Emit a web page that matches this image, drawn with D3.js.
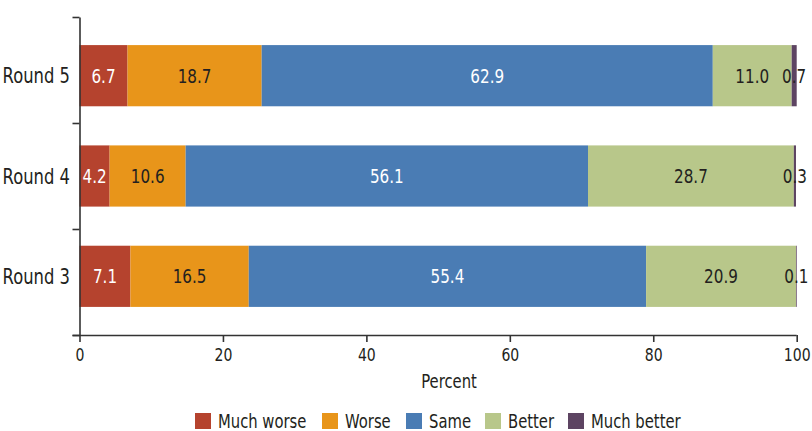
<!DOCTYPE html>
<html lang="en">
<head>
    <meta charset="UTF-8">
    <title>Change by round</title>
    <script src="https://d3js.org/d3.v7.min.js"></script>
    <style>
        body {
            margin: 0;
            background: #fff;
        }
        svg {
            display: block;
        }
        svg text {
            font-family: "DejaVu Sans", sans-serif;
        }
        .axis path, .axis line {
            stroke: #333;
            stroke-width: 1.6px;
        }
        .axis text {
            font-size: 18px;
            fill: #231f20;
            font-family: "DejaVu Sans", sans-serif;
        }
    </style>
</head>
<body>
    <svg width="812" height="431"></svg>

    <script>
        const rounds = ["Round 5", "Round 4", "Round 3"];
        const categories = ["Much worse", "Worse", "Same", "Better", "Much better"];
        const muchWorse = [6.7, 4.2, 7.1];
        const worse = [18.7, 10.6, 16.5];
        const same = [62.9, 56.1, 55.4];
        const better = [11.0, 28.7, 20.9];
        const muchBetter = [0.7, 0.3, 0.1];
        const xTicks = [0, 20, 40, 60, 80, 100];

        const colors = ["#b5432e", "#e8951a", "#4a7cb4", "#b8c78a", "#5d4462"];
        const labelColors = ["#fff", "#231f20", "#fff", "#231f20", "#231f20"];

        // no condensed font installed, so squeeze text horizontally
        const narrow = 0.78;
        const at = (px, py) => `translate(${px},${py}) scale(${narrow},1)`;

        const series = [muchWorse, worse, same, better, muchBetter];
        const data = rounds.map((r, i) => {
            const row = {round: r};
            categories.forEach((c, j) => row[c] = series[j][i]);
            return row;
        });
        const stacked = d3.stack().keys(categories)(data);

        const svg = d3.select("svg");
        const plotLeft = 79.5, plotRight = 796.7, plotTop = 17, plotBottom = 335;

        const x = d3.scaleLinear().domain([0, 100]).range([plotLeft, plotRight]);
        const y = d3.scaleBand().domain(rounds).range([plotTop, plotBottom])
            .paddingInner(0.39).paddingOuter(0.28);
        const yTick = d3.scaleLinear().domain([0, 3]).range([plotTop, plotBottom]);

        // bars
        const layers = svg.append("g").selectAll("g")
            .data(stacked)
            .enter().append("g")
            .attr("fill", (d, i) => colors[i]);

        layers.selectAll("rect")
            .data(d => d)
            .enter().append("rect")
            .attr("x", d => x(d[0]))
            .attr("y", d => y(d.data.round))
            .attr("width", d => x(d[1]) - x(d[0]))
            .attr("height", y.bandwidth());

        // value labels
        stacked.forEach((layer, i) => {
            svg.append("g").selectAll("text")
                .data(layer)
                .enter().append("text")
                .attr("transform", d => at(x((d[0] + d[1]) / 2), y(d.data.round) + y.bandwidth() / 2))
                .attr("dy", "0.36em")
                .attr("text-anchor", "middle")
                .attr("font-size", 19.5)
                .attr("fill", labelColors[i])
                .text(d => (d[1] - d[0]).toFixed(1));
        });

        // axes
        svg.append("g")
            .attr("class", "axis")
            .attr("transform", `translate(0,${plotBottom})`)
            .call(d3.axisBottom(x).tickValues(xTicks).tickSize(7).tickSizeOuter(0).tickPadding(6))
            .call(g => g.select(".domain").attr("d", `M${plotLeft - 7},0.5H${plotRight}`))
            .call(g => g.selectAll(".tick text").attr("transform", `scale(${narrow},1)`));

        svg.append("g")
            .attr("class", "axis")
            .attr("transform", `translate(${plotLeft},0)`)
            .call(d3.axisLeft(yTick).tickValues([0, 1, 2, 3]).tickFormat("").tickSize(7).tickSizeOuter(0));

        svg.append("g").selectAll("text")
            .data(rounds)
            .enter().append("text")
            .attr("transform", d => at(70, y(d) + y.bandwidth() / 2))
            .attr("dy", "0.36em")
            .attr("text-anchor", "end")
            .attr("font-size", 21)
            .attr("fill", "#231f20")
            .text(d => d);

        svg.append("text")
            .attr("transform", at(449, 388))
            .attr("text-anchor", "middle")
            .attr("font-size", 19)
            .attr("fill", "#231f20")
            .text("Percent");

        // legend
        const legendX = [195, 322, 406, 485, 568];
        const legend = svg.append("g").selectAll("g")
            .data(categories)
            .enter().append("g")
            .attr("transform", (d, i) => `translate(${legendX[i]},413)`);
        legend.append("rect")
            .attr("width", 16)
            .attr("height", 16)
            .attr("fill", (d, i) => colors[i]);
        legend.append("text")
            .attr("transform", at(23, 8))
            .attr("dy", "0.36em")
            .attr("font-size", 19)
            .attr("fill", "#231f20")
            .text(d => d);
    </script>
</body>
</html>
